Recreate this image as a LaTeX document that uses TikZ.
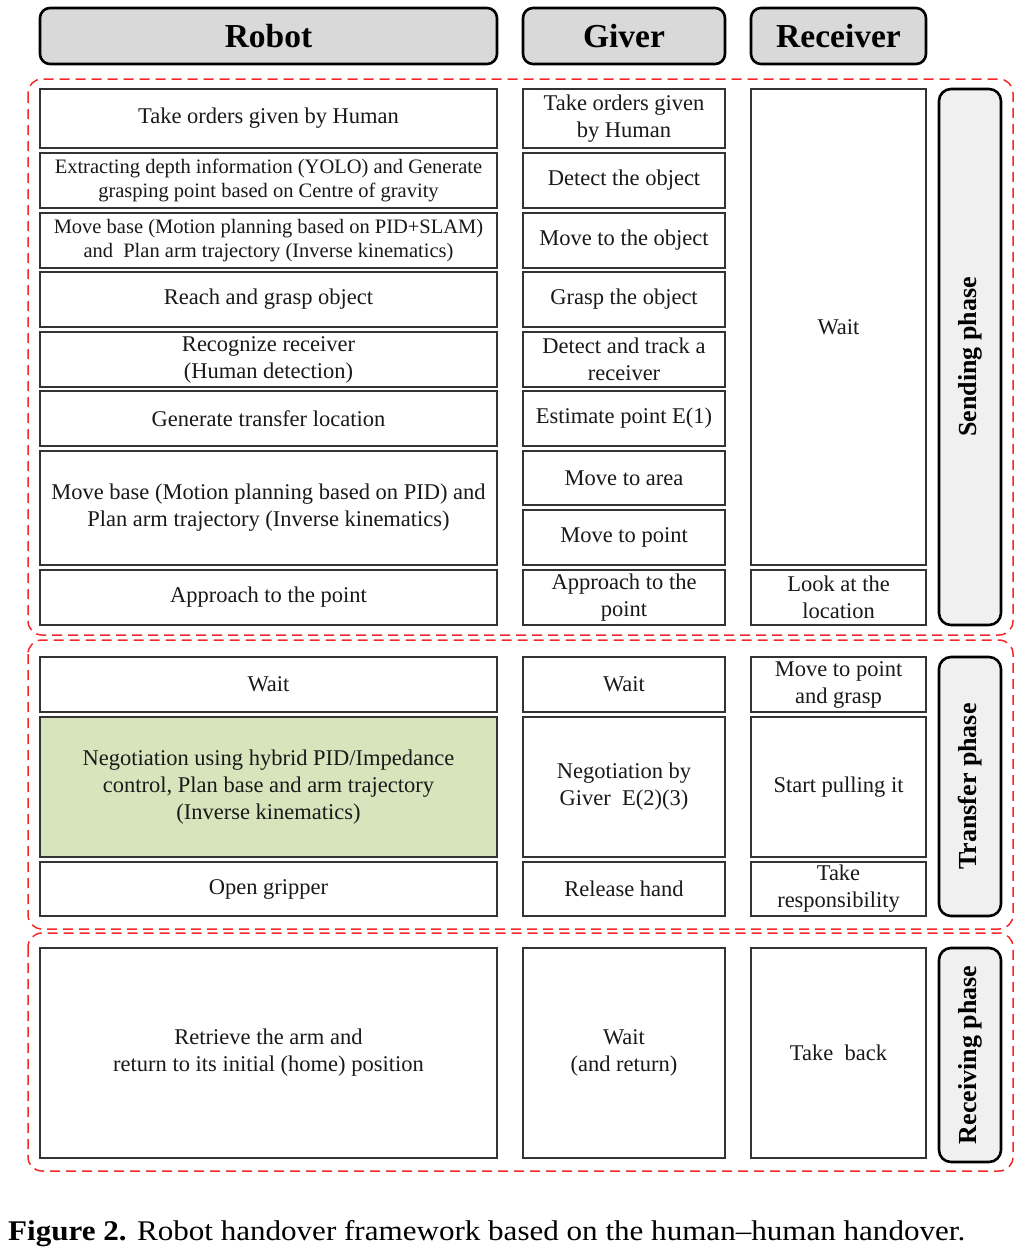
\documentclass[tikz,border=0pt]{standalone}
\usepackage{fontspec}
\setmainfont{Liberation Serif}
\definecolor{framered}{RGB}{245,40,40}
\definecolor{negogreen}{RGB}{216,228,188}
\begin{document}
\begin{tikzpicture}[x=1pt,y=-1pt,
  cellbox/.style={draw=black!80, line width=1.4pt, fill=white, align=center, inner sep=2pt,
    font=\fontsize{22.5}{27}\selectfont, text=black!90},
  small/.style={font=\fontsize{20.5}{24.5}\selectfont},
  headbox/.style={draw=black, line width=2.6pt, fill=black!15, rounded corners=10pt, align=center,
    font=\fontsize{33.5}{38}\selectfont\bfseries},
  phasebox/.style={draw=black, line width=2.6pt, fill=black!6, rounded corners=12pt, align=center,
    font=\fontsize{26}{30}\selectfont\bfseries, rotate=90},
  phaseframe/.style={draw=framered, line width=1.5pt, dash pattern=on 10pt off 6pt, rounded corners=14pt},
  greenfill/.style={fill=negogreen}
]
\useasboundingbox (0,0) rectangle (1029,1259);

\newcommand\cell[7][]{%
  \pgfmathsetmacro\cx{(#3+#5)/2}\pgfmathsetmacro\cy{(#4+#6)/2}%
  \pgfmathsetmacro\cw{#5-#3}\pgfmathsetmacro\ch{#6-#4}%
  \node[cellbox,#1,minimum width=\cw pt,minimum height=\ch pt] (#2) at (\cx,\cy) {#7};}
\newcommand\hcell[6]{%
  \pgfmathsetmacro\cx{(#2+#4)/2}\pgfmathsetmacro\cy{(#3+#5)/2}%
  \pgfmathsetmacro\cw{#4-#2}\pgfmathsetmacro\ch{#5-#3}%
  \node[headbox,minimum width=\cw pt,minimum height=\ch pt] (#1) at (\cx,\cy) {#6};}
\newcommand\pcell[6]{%
  \pgfmathsetmacro\cx{(#2+#4)/2}\pgfmathsetmacro\cy{(#3+#5)/2}%
  \pgfmathsetmacro\cw{#4-#2}\pgfmathsetmacro\ch{#5-#3}%
  \node[phasebox,minimum width=\ch pt,minimum height=\cw pt] (#1) at (\cx,\cy) {#6};}

% phase frames
\draw[phaseframe] (28,79) rectangle (1013,635);
\draw[phaseframe] (28,640) rectangle (1013,929);
\draw[phaseframe] (28,933) rectangle (1013,1171);

% headers
\hcell{hR}{40}{8}{497}{64}{Robot}
\hcell{hG}{523}{8}{725}{64}{Giver}
\hcell{hC}{751}{8}{926}{64}{Receiver}

% sending phase - robot
\cell{r1}{40}{89}{497}{148}{Take orders given by Human}
\cell[small]{r2}{40}{153}{497}{208}{Extracting depth information (YOLO) and Generate\\grasping point based on Centre of gravity}
\cell[small]{r3}{40}{213}{497}{268}{Move base (Motion planning based on PID+SLAM)\\and\ \ Plan arm trajectory (Inverse kinematics)}
\cell{r4}{40}{272}{497}{327}{Reach and grasp object}
\cell{r5}{40}{332}{497}{387}{Recognize receiver\\(Human detection)}
\cell{r6}{40}{391}{497}{446}{Generate transfer location}
\cell{r7}{40}{451}{497}{565}{Move base (Motion planning based on PID) and\\Plan arm trajectory (Inverse kinematics)}
\cell{r8}{40}{570}{497}{625}{Approach to the point}

% sending phase - giver
\cell{g1}{523}{89}{725}{148}{Take orders given\\by Human}
\cell{g2}{523}{153}{725}{208}{Detect the object}
\cell{g3}{523}{213}{725}{268}{Move to the object}
\cell{g4}{523}{272}{725}{327}{Grasp the object}
\cell{g5}{523}{332}{725}{387}{Detect and track a\\receiver}
\cell{g6}{523}{391}{725}{446}{Estimate point E(1)}
\cell{g7}{523}{451}{725}{505}{Move to area}
\cell{g8}{523}{510}{725}{565}{Move to point}
\cell{g9}{523}{570}{725}{625}{Approach to the\\point}

% sending phase - receiver
\cell{c1}{751}{89}{926}{565}{Wait}
\cell{c2}{751}{570}{926}{625}{Look at the\\location}

\pcell{pS}{939}{89}{1001}{625}{Sending phase}

% transfer phase
\cell{r9}{40}{657}{497}{712}{Wait}
\cell[greenfill]{r10}{40}{717}{497}{857}{Negotiation using hybrid PID/Impedance\\control, Plan base and arm trajectory\\(Inverse kinematics)}
\cell{r11}{40}{862}{497}{916}{Open gripper}
\cell{g10}{523}{657}{725}{712}{Wait}
\cell{g11}{523}{717}{725}{857}{Negotiation by\\Giver\ \ E(2)(3)}
\cell{g12}{523}{862}{725}{916}{Release hand}
\cell{c3}{751}{657}{926}{712}{Move to point\\and grasp}
\cell{c4}{751}{717}{926}{857}{Start pulling it}
\cell{c5}{751}{862}{926}{916}{Take\\responsibility}
\pcell{pT}{939}{657}{1001}{916}{Transfer phase}

% receiving phase
\cell{r12}{40}{948}{497}{1158}{Retrieve the arm and\\return to its initial (home) position}
\cell{g13}{523}{948}{725}{1158}{Wait\\(and return)}
\cell{c6}{751}{948}{926}{1158}{Take\ \ back}
\pcell{pR}{939}{948}{1001}{1162}{Receiving phase}

% caption
\node[anchor=west, inner sep=0pt, font=\fontsize{28.5}{32}\selectfont] (cap) at (8,1234)
  {\scalebox{1.09}[1]{\textbf{Figure 2.} Robot handover framework based on the human–human handover.}};
\end{tikzpicture}
\end{document}
